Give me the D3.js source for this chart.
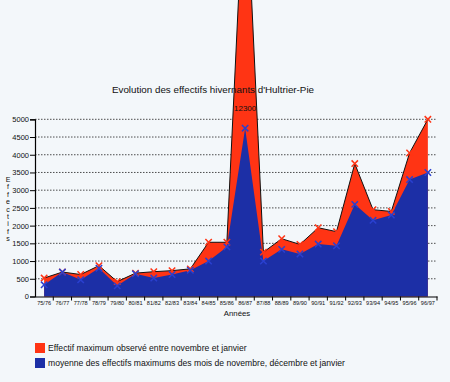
<!DOCTYPE html>
<html><head><meta charset="utf-8">
<script src="https://cdn.jsdelivr.net/npm/d3@7/dist/d3.min.js"></script>
<style>
html,body{margin:0;padding:0;background:#f3f7fa;}
svg{display:block;font-family:Arial,"Liberation Sans",sans-serif;}
</style></head>
<body><svg id="c" width="450" height="382"></svg>
<script>
const years = ["75/76","76/77","77/78","78/79","79/80","80/81","81/82","82/83","83/84","84/85","85/86","86/87","87/88","88/89","89/90","90/91","91/92","92/93","93/94","94/95","95/96","96/97"];
const maxObs = [520,690,620,870,420,660,700,730,780,1530,1530,12300,1250,1630,1470,1940,1830,3750,2450,2400,4050,5000];
const meanMax = [330,690,470,800,300,640,520,620,740,1000,1400,4750,1000,1330,1200,1480,1430,2600,2150,2300,3300,3500];
const yTicks = [0,500,1000,1500,2000,2500,3000,3500,4000,4500,5000];
const peakLabel = "12300";
const title = "Evolution des effectifs hivernants d'Hultrier-Pie";
const yTitle = "Effectifs";
const xTitle = "Années";
const legendItems = ["Effectif maximum observé entre novembre et janvier","moyenne des effectifs maximums des mois de novembre, décembre et janvier"];

const RED = "#ff3414", BLUE = "#1c2fa6";
const svg = d3.select("#c");
const L = 35, R = 437, B = 296.5, T = 119.3;
const x = d3.scaleBand().domain(years).range([L, R]);
const cx = d => x(d) + x.bandwidth() / 2;
const y = d3.scaleLinear().domain([0, 5000]).range([B, T]);

// gridlines
svg.append("g").selectAll("line").data(yTicks.filter(t => t > 0)).join("line")
  .attr("x1", L).attr("x2", R).attr("y1", d => y(d)).attr("y2", d => y(d))
  .attr("stroke", "#222").attr("stroke-width", 0.8).attr("stroke-dasharray", "1.5,1.5");

const redArea = d3.area().x((d, i) => cx(years[i])).y0(B).y1(d => y(d));
svg.append("path").datum(maxObs).attr("d", redArea).attr("fill", RED);
svg.append("path").datum(maxObs).attr("d", d3.line().x((d, i) => cx(years[i])).y(d => y(d)))
  .attr("fill", "none").attr("stroke", "#111").attr("stroke-width", 1);
svg.append("path").datum(meanMax).attr("d", redArea).attr("fill", BLUE);

function cross(g, data, color) {
  const s = 3.2;
  g.append("g").selectAll("path").data(data).join("path")
    .attr("d", (d, i) => {
      const px = cx(years[i]), py = y(d);
      return `M${px - s},${py - s}L${px + s},${py + s}M${px - s},${py + s}L${px + s},${py - s}`;
    })
    .attr("stroke", color).attr("stroke-width", 1.5).attr("fill", "none");
}
cross(svg, maxObs, RED);
cross(svg, meanMax, "#2a40d0");

// peak label
const pi = maxObs.indexOf(d3.max(maxObs));
svg.append("text").attr("x", cx(years[pi])).attr("y", 111).attr("text-anchor", "middle")
  .attr("font-size", 8).attr("fill", "#111").text(peakLabel);

// y axis
const ya = svg.append("g").attr("transform", `translate(${L},0)`)
  .call(d3.axisLeft(y).tickValues(yTicks).tickSize(5).tickPadding(1).tickFormat(d3.format("d")));
ya.select(".domain").attr("stroke", "#000").attr("stroke-width", 1.2);
ya.selectAll("line").attr("stroke", "#000");
ya.selectAll("text").attr("font-size", 7.5).attr("fill", "#111").attr("font-family", "Arial,'Liberation Sans',sans-serif");

// x axis
const xa = svg.append("g").attr("transform", `translate(0,${B})`)
  .call(d3.axisBottom(x).tickSize(0).tickPadding(5));
xa.select(".domain").attr("stroke", "#000").attr("stroke-width", 1.2);
xa.selectAll("text").attr("font-size", 5.6).attr("fill", "#111").attr("font-family", "Arial,'Liberation Sans',sans-serif");
xa.append("g").selectAll("line").data(years.slice(1).concat([null])).join("line")
  .attr("x1", d => d ? x(d) : R).attr("x2", d => d ? x(d) : R)
  .attr("y1", 0).attr("y2", 4).attr("stroke", "#000");

// titles
svg.append("text").attr("x", 213).attr("y", 93).attr("text-anchor", "middle")
  .attr("font-size", 9.8).attr("fill", "#111").text(title);
svg.append("text").attr("x", 237).attr("y", 316).attr("text-anchor", "middle")
  .attr("font-size", 7.8).attr("fill", "#111").text(xTitle);
svg.append("g").selectAll("text").data(yTitle.split("")).join("text")
  .attr("x", 8).attr("y", (d, i) => 182 + i * 7.4).attr("text-anchor", "middle")
  .attr("font-size", 7).attr("fill", "#111").text(d => d);

// legend
const lg = svg.append("g").selectAll("g").data(legendItems).join("g")
  .attr("transform", (d, i) => `translate(35,${343 + i * 15})`);
lg.append("rect").attr("width", 10).attr("height", 10).attr("fill", (d, i) => i ? BLUE : RED);
lg.append("text").attr("x", 13).attr("y", 8).attr("font-size", 8.6).attr("fill", "#111").text(d => d);
</script></body></html>
